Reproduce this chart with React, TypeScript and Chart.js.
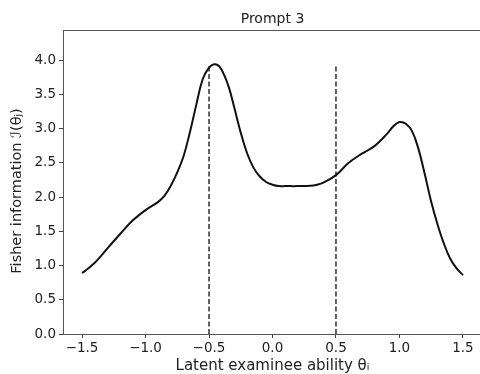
import React, { useEffect, useRef } from "react";
import { Chart, registerables } from "chart.js";

Chart.register(...registerables);

const thetaValues = [-1.5, -1.45, -1.4, -1.35, -1.3, -1.2, -1.1, -1.0, -0.9, -0.85, -0.8, -0.75, -0.7, -0.65, -0.6, -0.55, -0.5, -0.46, -0.42, -0.38, -0.34, -0.3, -0.25, -0.2, -0.15, -0.1, -0.05, 0.0, 0.05, 0.1, 0.2, 0.3, 0.35, 0.4, 0.5, 0.6, 0.7, 0.8, 0.9, 0.95, 1.0, 1.05, 1.1, 1.15, 1.2, 1.25, 1.3, 1.35, 1.4, 1.45, 1.5];
const infoValues = [0.89, 0.96, 1.04, 1.14, 1.25, 1.46, 1.66, 1.81, 1.93, 2.02, 2.17, 2.36, 2.6, 2.95, 3.35, 3.72, 3.89, 3.94, 3.91, 3.78, 3.58, 3.3, 2.94, 2.64, 2.43, 2.3, 2.22, 2.18, 2.16, 2.16, 2.16, 2.165, 2.18, 2.21, 2.32, 2.5, 2.63, 2.74, 2.92, 3.03, 3.095, 3.07, 2.96, 2.7, 2.33, 1.93, 1.6, 1.32, 1.1, 0.96, 0.86];
const cutPoints = [-0.5, 0.5];
const cutTop = 3.91;
const xTicks = [-1.5, -1.0, -0.5, 0.0, 0.5, 1.0, 1.5];
const yTicks = [0.0, 0.5, 1.0, 1.5, 2.0, 2.5, 3.0, 3.5, 4.0];

const titleText = "Prompt 3";
const xLabel = "Latent examinee ability θᵢ";
const yLabel = "Fisher information ℐ(θⱼ)";

const FONT = "'DejaVu Sans', sans-serif";

const fmt = (v: number) => {
  const s = Math.abs(v).toFixed(1);
  return v < -1e-9 ? "\u2212" + s : s;
};

export default function App() {
  const ref = useRef<HTMLCanvasElement | null>(null);

  useEffect(() => {
    if (!ref.current) return;
    const curve = thetaValues.map((x, i) => ({ x, y: infoValues[i] }));
    const cutSets = cutPoints.map((c) => ({
      type: "scatter" as const,
      data: [
        { x: c, y: 0 },
        { x: c, y: cutTop },
      ],
      showLine: true,
      borderColor: "#222",
      borderWidth: 1.4,
      borderDash: [5, 2.5],
      pointRadius: 0,
    }));

    const framePlugin = {
      id: "frame",
      afterDraw(chart: any) {
        const { ctx, chartArea } = chart;
        ctx.save();
        ctx.strokeStyle = "#555";
        ctx.lineWidth = 1;
        ctx.beginPath();
        ctx.moveTo(chartArea.left, chartArea.top + 0.5);
        ctx.lineTo(chartArea.right, chartArea.top + 0.5);
        ctx.moveTo(chartArea.right - 0.5, chartArea.top);
        ctx.lineTo(chartArea.right - 0.5, chartArea.bottom);
        ctx.stroke();
        ctx.fillStyle = "#222";
        ctx.font = `14px ${FONT}`;
        ctx.textAlign = "center";
        ctx.textBaseline = "middle";
        ctx.fillText(titleText, (chartArea.left + chartArea.right) / 2, 19);
        // y-axis label
        ctx.translate(17, 191);
        ctx.rotate(-Math.PI / 2);
        ctx.font = `14.5px ${FONT}`;
        ctx.fillText(yLabel, 0, 0);
        ctx.restore();
      },
    };

    const chart = new Chart(ref.current, {
      type: "scatter",
      data: {
        datasets: [
          {
            data: curve,
            showLine: true,
            borderColor: "#111",
            borderWidth: 2,
            pointRadius: 0,
            tension: 0.4,
          } as any,
          ...cutSets,
        ],
      },
      options: {
        animation: false,
        responsive: true,
        maintainAspectRatio: false,
        layout: { padding: { top: 30, left: 0, right: 0, bottom: 0 } },
        plugins: {
          legend: { display: false },
          tooltip: { enabled: false },
          title: { display: false },
        },
        scales: {
          x: {
            type: "linear",
            min: -1.65,
            max: 1.65,
            afterFit: (s: any) => {
              s.height = 40;
            },
            afterBuildTicks: (s: any) => {
              s.ticks = xTicks.map((v) => ({ value: v }));
            },
            ticks: {
              callback: (v: any) => fmt(Number(v)),
              font: { family: FONT, size: 13.5 },
              color: "#222",
              padding: 2,
              maxRotation: 0,
              autoSkip: false,
            },
            grid: {
              drawOnChartArea: false,
              drawTicks: true,
              tickLength: 4,
              color: "#444",
            },
            border: { display: true, color: "#555", width: 1 },
            title: {
              display: true,
              text: xLabel,
              font: { family: FONT, size: 15, lineHeight: 1 },
              color: "#222",
              padding: { top: 0, bottom: 0 },
            },
          },
          y: {
            type: "linear",
            min: 0,
            max: 4.44,
            afterFit: (s: any) => {
              s.width = 63;
            },
            afterBuildTicks: (s: any) => {
              s.ticks = yTicks.map((v) => ({ value: v }));
            },
            ticks: {
              callback: (v: any) => fmt(Number(v)),
              font: { family: FONT, size: 13.5 },
              color: "#222",
              padding: 3,
              autoSkip: false,
            },
            grid: {
              drawOnChartArea: false,
              drawTicks: true,
              tickLength: 4,
              color: "#444",
            },
            border: { display: true, color: "#555", width: 1 },
            title: { display: false },
          },
        },
      },
      plugins: [framePlugin],
    });
    return () => chart.destroy();
  }, []);

  return (
    <div style={{ position: "fixed", left: 0, top: 0, width: 482, height: 374, background: "#fff" }}>
      <canvas ref={ref} />
    </div>
  );
}
